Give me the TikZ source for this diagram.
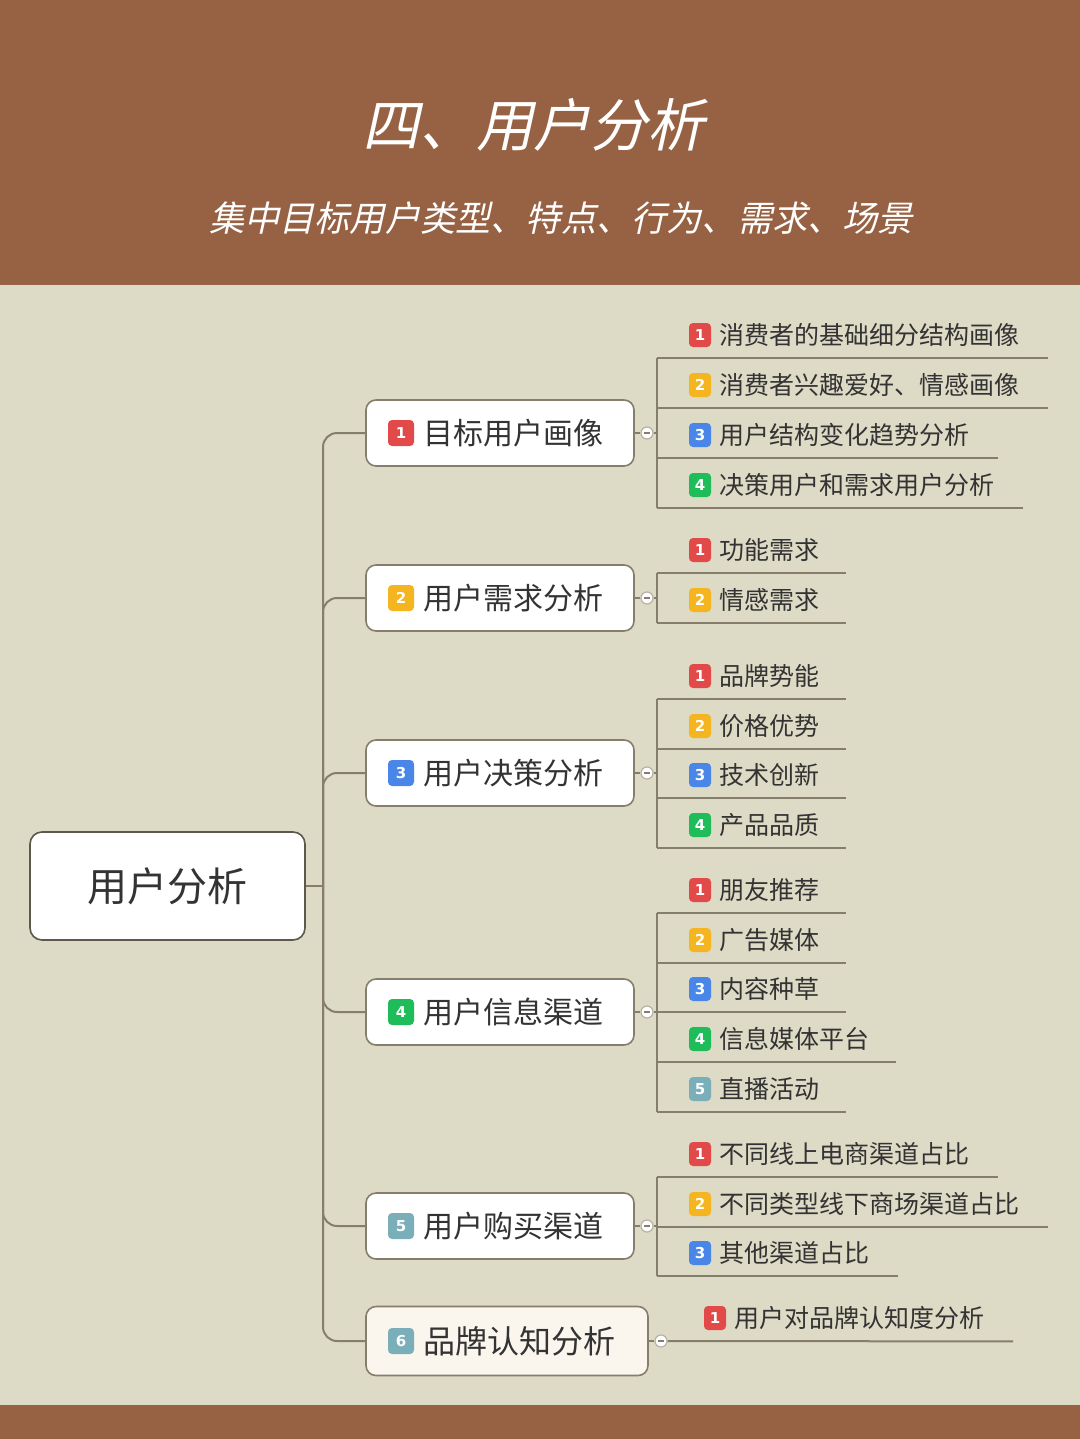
\documentclass[tikz,border=0pt]{standalone}
\usepackage{fontspec}
\setmainfont{Noto Sans CJK SC}
\newfontfamily\titlefont{Noto Sans CJK SC}[FakeSlant=0.22]
\newfontfamily\numfont{DejaVu Sans}
\usepackage{tikz}
\usetikzlibrary{positioning}
\definecolor{bandbrown}{HTML}{976244}
\definecolor{paper}{HTML}{DDDAC5}
\definecolor{wire}{HTML}{857E6C}
\definecolor{ink}{HTML}{333333}
\definecolor{nred}{HTML}{E24A4A}
\definecolor{nyellow}{HTML}{F5B521}
\definecolor{nblue}{HTML}{4A86E8}
\definecolor{ngreen}{HTML}{1FBD5A}
\definecolor{nteal}{HTML}{7AAFBA}
\definecolor{cream}{HTML}{FAF6EE}
\tikzstyle{line} = [draw=wire, line width=1pt]
\tikzstyle{badge} = [rounded corners=2pt, text=white, font=\numfont\bfseries\fontsize{7.5}{8}\selectfont, minimum width=11pt, minimum height=12pt, inner sep=0pt]
\tikzstyle{leaf} = [text=ink, font=\fontsize{12.5}{15}\selectfont, minimum height=23pt, inner sep=0pt]
\tikzstyle{topic} = [draw=wire, fill=white, rounded corners=5pt, line width=0.8pt, minimum width=134pt, minimum height=33pt]
\tikzstyle{topictext} = [text=ink, font=\fontsize{15}{18}\selectfont, inner sep=0pt]
\tikzstyle{fold} = [circle, draw=wire!60, fill=white, line width=0.6pt, minimum size=6pt, inner sep=0pt,
	path picture={\draw[wire, line width=0.6pt] ([xshift=-1.6pt]path picture bounding box.center) -- ++(3.2pt,0);}]

\begin{document}
\begin{tikzpicture}[x=0.5pt,y=-0.5pt]
	\useasboundingbox (0,0) rectangle (1080,1439);

	% ------------------- Background bands ------------------- %
	\fill[bandbrown] (0,0) rectangle (1080,285);
	\fill[paper] (0,285) rectangle (1080,1405);
	\fill[bandbrown] (0,1405) rectangle (1080,1439);

	\node[text=white, font=\titlefont\fontsize{28.5}{30}\selectfont] (title) at (533,125) {四、用户分析};
	\node[text=white, font=\titlefont\fontsize{17.6}{20}\selectfont] (subtitle) at (561,218) {集中目标用户类型、特点、行为、需求、场景};

	% ------------------- Root and trunk ------------------- %
	\node[draw=wire!70!black, fill=white, rounded corners=6pt, line width=0.8pt, minimum width=137.5pt, minimum height=54pt,
		text=ink, font=\fontsize{20}{24}\selectfont] (root) at (167.5,886) {用户分析};
	\coordinate (tr) at (323,886);

	% ------------------- Main topics ------------------- %
	\node[topic] (b1) at (500,433) {};
	\node[topic] (b2) at (500,598) {};
	\node[topic] (b3) at (500,773) {};
	\node[topic] (b4) at (500,1012) {};
	\node[topic] (b5) at (500,1226) {};
	\node[topic, fill=cream, minimum width=141pt, minimum height=34.5pt] (b6) at (507,1341) {};

	\foreach \b/\y/\c/\t in {1/433/nred/目标用户画像, 2/598/nyellow/用户需求分析, 3/773/nblue/用户决策分析,
		4/1012/ngreen/用户信息渠道, 5/1226/nteal/用户购买渠道}{
		\node[badge, fill=\c, minimum width=13pt, minimum height=13pt] (p\b) at (401,\y) {\b};
		\node[topictext, right=4.5pt of p\b] (t\b) {\t};
	}
	\node[badge, fill=nteal, minimum width=13pt, minimum height=13pt] (p6) at (401,1341) {6};
	\node[topictext, font=\fontsize{16}{19}\selectfont, right=4.5pt of p6] (t6) {品牌认知分析};

	\draw[line] (root.east) -- (tr);
	\foreach \b in {b1,b2,b3,b4,b5,b6}
		\draw[line, rounded corners=7pt] (tr) |- (\b.west);

	% ------------------- Fold marks ------------------- %
	\node[fold] (k1) at (647,433) {};
	\node[fold] (k2) at (647,598) {};
	\node[fold] (k3) at (647,773) {};
	\node[fold] (k4) at (647,1012) {};
	\node[fold] (k5) at (647,1226) {};
	\node[fold] (k6) at (661,1341) {};

	\foreach \n/\yy in {1/433,2/598,3/773,4/1012,5/1226}{
		\coordinate (v\n) at (657,\yy);
		\draw[line] (b\n.east) -- (k\n.west);
		\draw[line] (k\n.east) -- (v\n);
	}
	\draw[line] (b6.east) -- (k6.west);

	% ------------------- Leaves ------------------- %
	\foreach \n/\y/\c/\t in {1/335/nred/消费者的基础细分结构画像, 2/385/nyellow/消费者兴趣爱好、情感画像,
		3/435/nblue/用户结构变化趋势分析, 4/485/ngreen/决策用户和需求用户分析}{
		\node[badge, fill=\c] (a1\n) at (700,\y) {\n};
		\node[leaf, right=4pt of a1\n] (c1\n) {\t};
		\draw[line] (v1 |- c1\n.south) -- ([xshift=14pt]c1\n.south east);
	}
	\draw[line] (v1 |- c11.south) -- (v1 |- c14.south);

	\foreach \n/\y/\c/\t in {1/550/nred/功能需求, 2/600/nyellow/情感需求}{
		\node[badge, fill=\c] (a2\n) at (700,\y) {\n};
		\node[leaf, right=4pt of a2\n] (c2\n) {\t};
		\draw[line] (v2 |- c2\n.south) -- ([xshift=13pt]c2\n.south east);
	}
	\draw[line] (v2 |- c21.south) -- (v2 |- c22.south);

	\foreach \n/\y/\c/\t in {1/676/nred/品牌势能, 2/726/nyellow/价格优势, 3/775/nblue/技术创新, 4/825/ngreen/产品品质}{
		\node[badge, fill=\c] (a3\n) at (700,\y) {\n};
		\node[leaf, right=4pt of a3\n] (c3\n) {\t};
		\draw[line] (v3 |- c3\n.south) -- ([xshift=13pt]c3\n.south east);
	}
	\draw[line] (v3 |- c31.south) -- (v3 |- c34.south);

	\foreach \n/\y/\c/\t in {1/890/nred/朋友推荐, 2/940/nyellow/广告媒体, 3/989/nblue/内容种草,
		4/1039/ngreen/信息媒体平台, 5/1089/nteal/直播活动}{
		\node[badge, fill=\c] (a4\n) at (700,\y) {\n};
		\node[leaf, right=4pt of a4\n] (c4\n) {\t};
		\draw[line] (v4 |- c4\n.south) -- ([xshift=13pt]c4\n.south east);
	}
	\draw[line] (v4 |- c41.south) -- (v4 |- c45.south);

	\foreach \n/\y/\c/\t in {1/1154/nred/不同线上电商渠道占比, 2/1204/nyellow/不同类型线下商场渠道占比, 3/1253/nblue/其他渠道占比}{
		\node[badge, fill=\c] (a5\n) at (700,\y) {\n};
		\node[leaf, right=4pt of a5\n] (c5\n) {\t};
		\draw[line] (v5 |- c5\n.south) -- ([xshift=14pt]c5\n.south east);
	}
	\draw[line] (v5 |- c51.south) -- (v5 |- c53.south);

	\node[badge, fill=nred] (a61) at (715,1318) {1};
	\node[leaf, right=4pt of a61] (c61) {用户对品牌认知度分析};
	\draw[line] (k6.east) -- ([xshift=14pt]c61.south east);

\end{tikzpicture}
\end{document}
